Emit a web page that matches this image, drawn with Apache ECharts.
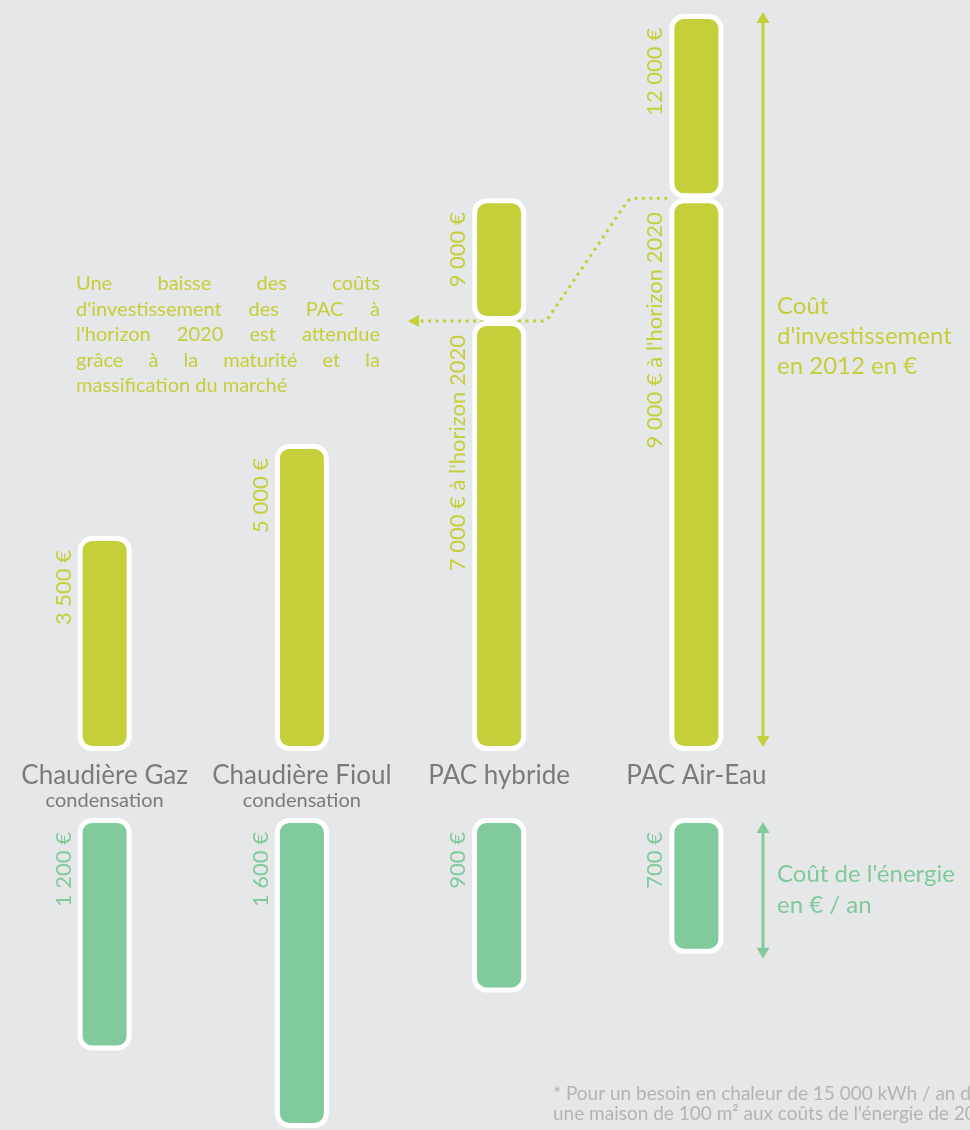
<!DOCTYPE html>
<html><head><meta charset="utf-8">
<script src="https://cdn.jsdelivr.net/npm/echarts@6/dist/echarts.min.js"></script>
<style>html,body{margin:0;padding:0;background:#e6e7e8}#c{width:970px;height:1130px}</style>
</head><body><div id="c"></div>
<script>
// ---- data ----
const categories = ['Chaudière Gaz', 'Chaudière Fioul', 'PAC hybride', 'PAC Air-Eau'];
const subCategories = ['condensation', 'condensation', '', ''];
const invest2012 = [3500, 5000, 9000, 12000];
const invest2020 = [null, null, 7000, 9000];
const energyCost = [1200, 1600, 900, 700];
const investRange = [0, 12000];
const energyRange = [0, 1600];
const investTitle = ['Coût', "d'investissement", 'en 2012 en €'];
const energyTitle = ["Coût de l'énergie", 'en € / an'];
const noteLines = ['Une baisse des coûts', "d'investissement des PAC à", "l'horizon 2020 est attendue", 'grâce à la maturité et la', 'massification du marché'];
const footnote = ['* Pour un besoin en chaleur de 15 000 kWh / an dans', "une maison de 100 m² aux coûts de l'énergie de 2012"];

// ---- style ----
const FONT = 'Lato';
const YG = '#c5cf3a';
const GR = '#80ca9c';
const GREY = '#7b7b7b';

const fmt = v => String(v).replace(/\B(?=(\d{3})+(?!\d))/g, ' ') + ' €';
const baseInvest = invest2012.map((v, i) => invest2020[i] != null ? invest2020[i] : v);
const extraInvest = invest2012.map((v, i) => invest2020[i] != null ? v - invest2020[i] : '-');

const barStyle = c => ({ color: c, borderColor: '#ffffff', borderWidth: 5, borderRadius: 12 });
const rotLabel = (c, f) => ({
  show: true, rotate: 90, position: [-14, 14], align: 'right', verticalAlign: 'middle',
  color: c, fontSize: 22, fontFamily: FONT, formatter: f
});

const chart = echarts.init(document.getElementById('c'), null, { renderer: 'canvas' });
chart.setOption({
  backgroundColor: '#e6e7e8',
  animation: false,
  grid: [
    { left: 6, right: 175, top: 14, bottom: 379 },
    { left: 6, right: 175, top: 818, bottom: 2 }
  ],
  xAxis: [
    { type: 'category', gridIndex: 0, data: categories,
      axisLine: { show: false }, axisTick: { show: false },
      axisLabel: { margin: 9, verticalAlign: 'top',
        formatter: (v, i) => subCategories[i] ? '{a|' + v + '}\n{b|' + subCategories[i] + '}' : '{a|' + v + '}',
        rich: { a: { fontSize: 26, lineHeight: 31, color: GREY, fontFamily: FONT },
                b: { fontSize: 20, lineHeight: 20, color: GREY, fontFamily: FONT } } } },
    { type: 'category', gridIndex: 1, data: categories, show: false }
  ],
  yAxis: [
    { type: 'value', gridIndex: 0, min: investRange[0], max: investRange[1], show: false },
    { type: 'value', gridIndex: 1, min: energyRange[0], max: energyRange[1], inverse: true, show: false }
  ],
  series: [
    { type: 'bar', name: 'base', xAxisIndex: 0, yAxisIndex: 0, stack: 'inv', barWidth: 54, clip: false,
      data: baseInvest, itemStyle: barStyle(YG),
      label: rotLabel(YG, p => invest2020[p.dataIndex] != null ? fmt(invest2020[p.dataIndex]) + " à l'horizon 2020" : fmt(invest2012[p.dataIndex])) },
    { type: 'bar', name: 'extra', xAxisIndex: 0, yAxisIndex: 0, stack: 'inv', barWidth: 54, clip: false,
      data: extraInvest, itemStyle: barStyle(YG),
      label: rotLabel(YG, p => fmt(invest2012[p.dataIndex])) },
    { type: 'bar', name: 'energie', xAxisIndex: 1, yAxisIndex: 1, barWidth: 54, clip: false,
      data: energyCost, itemStyle: barStyle(GR),
      label: rotLabel(GR, p => fmt(energyCost[p.dataIndex])) }
  ]
});

// ---- decorations anchored on the axes ----
const px = (xi, yi, x, y) => chart.convertToPixel({ xAxisIndex: xi, yAxisIndex: yi }, [x, y]);
const ax = 763;
const yI0 = px(0, 0, 0, investRange[0])[1];
const yI1 = px(0, 0, 0, investRange[1])[1];
const yE0 = px(1, 1, 0, 0)[1];
const yE1 = px(1, 1, 0, energyCost[3])[1];

function arrow(x, yTop, yBot, color) {
  return [
    { type: 'line', shape: { x1: x, y1: yTop + 8, x2: x, y2: yBot - 8 }, style: { stroke: color, lineWidth: 3 } },
    { type: 'polygon', shape: { points: [[x, yTop], [x - 6.5, yTop + 11], [x + 6.5, yTop + 11]] }, style: { fill: color } },
    { type: 'polygon', shape: { points: [[x, yBot], [x - 6.5, yBot - 11], [x + 6.5, yBot - 11]] }, style: { fill: color } }
  ];
}

// dotted connector between the 2020 levels
const pAir = px(0, 0, 3, invest2020[3]);
const pHyb = px(0, 0, 2, invest2020[2]);
const startX = pAir[0] - 29, startY = pAir[1];
const endY = pHyb[1];
const tipX = 408;
const connector = [
  { type: 'polyline', shape: { points: [[startX, startY], [startX - 36, startY], [startX - 40, startY + 3], [549, endY - 4], [543, endY], [tipX + 12, endY]] },
    style: { stroke: YG, lineWidth: 3, lineDash: [3, 4.5], fill: null } },
  { type: 'polygon', shape: { points: [[tipX, endY], [tipX + 11, endY - 6], [tipX + 11, endY + 6]] }, style: { fill: YG } }
];

// justified note
const ctx = document.createElement('canvas').getContext('2d');
ctx.font = '20px ' + FONT;
const noteLeft = 76, noteRight = 380;
const noteY = [284, 309.5, 335, 360.5, 386];
const noteEls = [];
noteLines.forEach((line, li) => {
  const words = line.split(' ');
  const last = li === noteLines.length - 1;
  const widths = words.map(w => ctx.measureText(w).width);
  const total = widths.reduce((a, b) => a + b, 0);
  const gap = last ? ctx.measureText(' ').width : (noteRight - noteLeft - total) / (words.length - 1);
  let x = noteLeft;
  words.forEach((w, wi) => {
    noteEls.push({ type: 'text', x: x, y: noteY[li], style: { text: w, fill: YG, font: '20px ' + FONT, verticalAlign: 'middle' } });
    x += widths[wi] + gap;
  });
});

chart.setOption({
  graphic: [
    ...connector,
    ...arrow(ax, yI1 - 2, yI0 - 4, YG),
    ...arrow(ax, yE0 + 4, yE1 + 5, GR),
    { type: 'text', x: 777, y: 336, style: { text: investTitle.join('\n'), fill: YG, font: '24px ' + FONT, lineHeight: 30, verticalAlign: 'middle' } },
    { type: 'text', x: 777, y: 890, style: { text: energyTitle.join('\n'), fill: GR, font: '24px ' + FONT, lineHeight: 31, verticalAlign: 'middle' } },
    ...noteEls,
    { type: 'text', x: 553, y: 1104, style: { text: footnote.join('\n'), fill: '#b4b4b4', font: '19px ' + FONT, lineHeight: 20, verticalAlign: 'middle' } }
  ]
});
</script></body></html>
